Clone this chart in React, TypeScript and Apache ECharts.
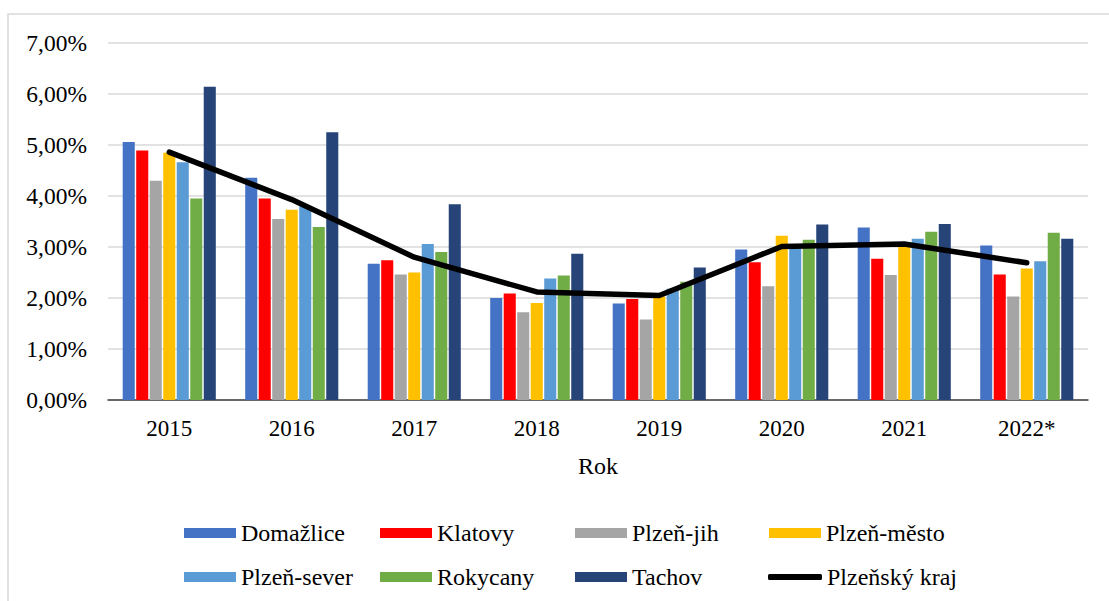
import React, { useEffect, useRef } from "react";
import * as echarts from "echarts";

const years = ["2015", "2016", "2017", "2018", "2019", "2020", "2021", "2022*"];
const domazlice = [5.06, 4.36, 2.67, 2.0, 1.89, 2.95, 3.38, 3.03];
const klatovy = [4.89, 3.95, 2.74, 2.09, 1.98, 2.7, 2.77, 2.46];
const plzenJih = [4.3, 3.55, 2.46, 1.72, 1.58, 2.23, 2.45, 2.03];
const plzenMesto = [4.85, 3.73, 2.5, 1.9, 2.03, 3.22, 3.02, 2.58];
const plzenSever = [4.66, 3.8, 3.06, 2.38, 2.18, 3.01, 3.16, 2.72];
const rokycany = [3.95, 3.39, 2.9, 2.44, 2.32, 3.14, 3.3, 3.28];
const tachov = [6.14, 5.25, 3.84, 2.87, 2.6, 3.44, 3.45, 3.16];
const plzenskyKraj = [4.86, 3.93, 2.8, 2.12, 2.05, 3.01, 3.06, 2.69];

const barNames = ["Domažlice", "Klatovy", "Plzeň-jih", "Plzeň-město", "Plzeň-sever", "Rokycany", "Tachov"];
const barData = [domazlice, klatovy, plzenJih, plzenMesto, plzenSever, rokycany, tachov];
const barColors = ["#4472C4", "#FF0000", "#A5A5A5", "#FFC000", "#5B9BD5", "#70AD47", "#264478"];
const lineName = "Plzeňský kraj";

const FONT = "'Liberation Serif', 'DejaVu Serif', serif";

export default function App() {
  const ref = useRef<HTMLDivElement>(null);
  useEffect(() => {
    if (!ref.current) return;
    const chart = echarts.init(ref.current, null, { renderer: "svg" });
    const allNames = [...barNames, lineName];
    const legendPos = [
      [184, 521], [380, 521], [575, 521], [769, 521],
      [184, 565], [380, 565], [575, 565], [768, 565],
    ];
    const legends = allNames.map((n, i) => {
      const isLine = n === lineName;
      return {
        data: [isLine ? { name: n, icon: "roundRect" } : { name: n, icon: "rect" }],
        left: legendPos[i][0],
        top: legendPos[i][1],
        padding: 0,
        itemWidth: isLine ? 54 : 52,
        itemHeight: isLine ? 6 : 10,
        itemGap: 0,
        textStyle: { fontFamily: FONT, fontSize: 24, color: "#000" },
      };
    });
    const series: any[] = barData.map((d, i) => ({
      name: barNames[i],
      type: "bar",
      data: d,
      itemStyle: { color: barColors[i] },
      barGap: "12%",
      barCategoryGap: "24%",
    }));
    series.push({
      name: lineName,
      type: "line",
      data: plzenskyKraj,
      symbol: "none",
      z: 10,
      itemStyle: { color: "#000" },
      lineStyle: { color: "#000", width: 5.5, cap: "round", join: "round" },
    });
    chart.setOption({
      animation: false,
      backgroundColor: "#fff",
      textStyle: { fontFamily: FONT },
      graphic: [
        {
          type: "rect",
          shape: { x: 8, y: 14, width: 1200, height: 700 },
          style: { fill: "none", stroke: "#d9d9d9", lineWidth: 1.5 },
          silent: true,
        },
      ],
      legend: legends,
      grid: { left: 108, right: 21, top: 43, bottom: 201 },
      xAxis: {
        type: "category",
        data: years,
        name: "Rok",
        nameLocation: "middle",
        nameGap: 54,
        nameTextStyle: { fontFamily: FONT, fontSize: 24, color: "#000" },
        axisLine: { lineStyle: { color: "#404040", width: 1.5 } },
        axisTick: { inside: true, length: 6, lineStyle: { color: "#404040", width: 1.5 } },
        axisLabel: { fontFamily: FONT, fontSize: 23, color: "#000", margin: 17 },
      },
      yAxis: {
        type: "value",
        min: 0,
        max: 7,
        interval: 1,
        axisLine: { show: false },
        axisTick: { show: false },
        splitLine: { lineStyle: { color: "#d9d9d9", width: 1.5 } },
        axisLabel: {
          fontFamily: FONT,
          fontSize: 23.5,
          color: "#000",
          margin: 21,
          formatter: (v: number) => v.toFixed(2).replace(".", ",") + "%",
        },
      },
      series,
    });
    return () => chart.dispose();
  }, []);
  return (
    <div
      ref={ref}
      style={{ position: "absolute", left: 0, top: 0, width: 1109, height: 601 }}
    />
  );
}
